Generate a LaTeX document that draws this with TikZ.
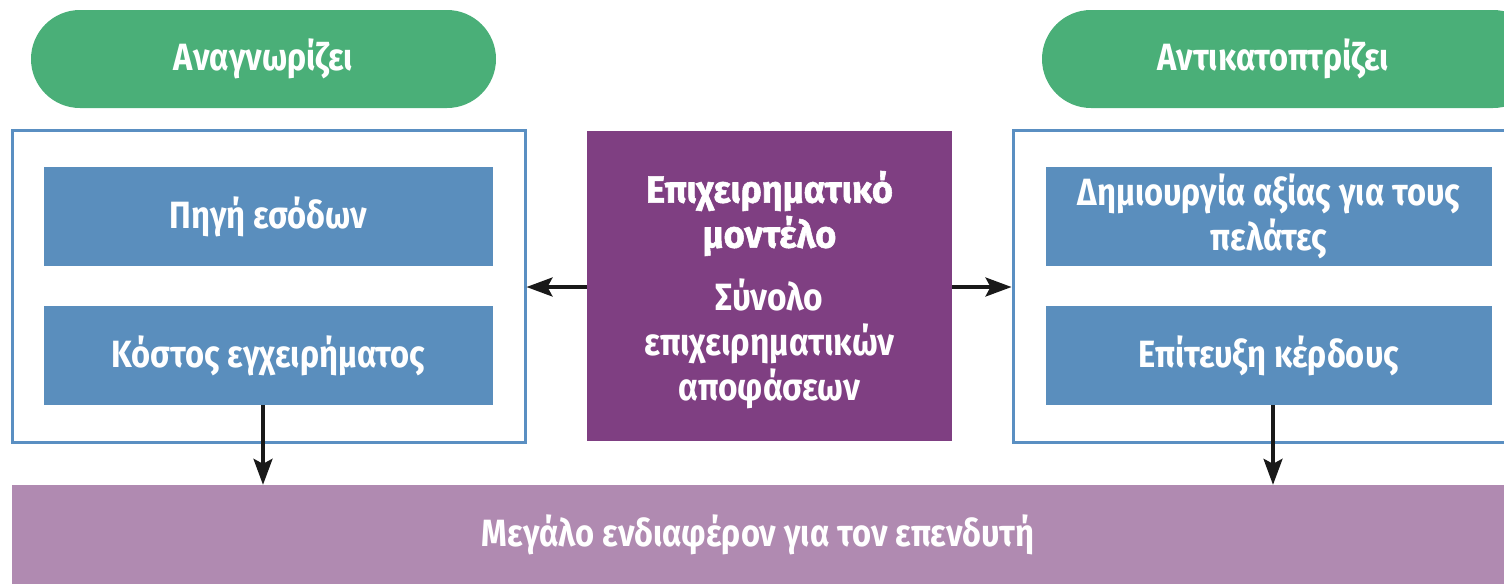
\documentclass[tikz,border=0pt]{standalone}
\usepackage{fontspec}
\setmainfont{Fira Sans}[FakeStretch=0.86]
\newfontfamily\medfont{Fira Sans}[FakeStretch=0.88]
\newfontfamily\heavyfont{Fira Sans}[FakeStretch=0.95,BoldFeatures={FakeBold=1.4}]
\usetikzlibrary{arrows.meta}
\definecolor{pillgreen}{HTML}{4AAF78}
\definecolor{boxblue}{HTML}{5A8EBD}
\definecolor{edgeblue}{HTML}{5A8FC2}
\definecolor{darkpurple}{HTML}{7F3F82}
\definecolor{lightpurple}{HTML}{B08AB1}
\begin{document}
\begin{tikzpicture}[x=1pt,y=-1pt,
  txt/.style={text=white,font=\fontsize{38}{45}\selectfont\bfseries,align=center},
  pill/.style={txt,fill=pillgreen,rounded corners=49pt,inner sep=0pt},
  outer/.style={draw=edgeblue,line width=3pt,fill=white,inner sep=0pt},
  inner/.style={txt,fill=boxblue,inner sep=0pt},
  arr/.style={-{Stealth[length=26pt,width=19pt,inset=5pt]},line width=3.2pt,black!90}]
\useasboundingbox (0,0) rectangle (1504,584);
% pills
\node[pill,minimum width=465pt,minimum height=98pt] (p1) at (263.5,59) {Αναγνωρίζει};
\node[pill,minimum width=500pt,minimum height=98pt] (p2) at (1292,59) {};
\node[txt] (p2t) at (1273,59) {Αντικατοπτρίζει};
% outer boxes
\node[outer,minimum width=513pt,minimum height=312pt] (o1) at (268.5,286) {};
\node[outer,minimum width=520pt,minimum height=312pt] (o2) at (1273,286) {};
% inner boxes
\node[inner,minimum width=449pt,minimum height=99pt] (a1) at (268.5,216.5) {Πηγή εσόδων};
\node[inner,minimum width=449pt,minimum height=99pt] (a2) at (268.5,355.5) {Κόστος εγχειρήματος};
\node[inner,minimum width=446pt,minimum height=99pt] (b1) at (1269,216.5) {Δημιουργία αξίας για τους\\πελάτες};
\node[inner,minimum width=446pt,minimum height=99pt] (b2) at (1269,355.5) {Επίτευξη κέρδους};
% center
\node[fill=darkpurple,minimum width=365pt,minimum height=310pt,inner sep=0pt] (c) at (769.5,286) {};
\node[txt] (ct) at (769.5,290) {{\heavyfont Επιχειρηματικό}\\{\heavyfont μοντέλο}\\[18pt]{\medfont Σύνολο}\\{\medfont επιχειρηματικών}\\{\medfont αποφάσεων}};
% bottom
\node[txt,fill=lightpurple,minimum width=1492pt,minimum height=99pt,inner sep=0pt] (m) at (758,534.5) {Μεγάλο ενδιαφέρον για τον επενδυτή};
% arrows
\draw[arr] (c.west |- 0,287) -- (o1.east |- 0,287);
\draw[arr] (c.east |- 0,287) -- (o2.west |- 0,287);
\draw[arr] (a2.south -| 263,0) -- (m.north -| 263,0);
\draw[arr] (b2.south -| 1273,0) -- (m.north -| 1273,0);
\end{tikzpicture}
\end{document}
